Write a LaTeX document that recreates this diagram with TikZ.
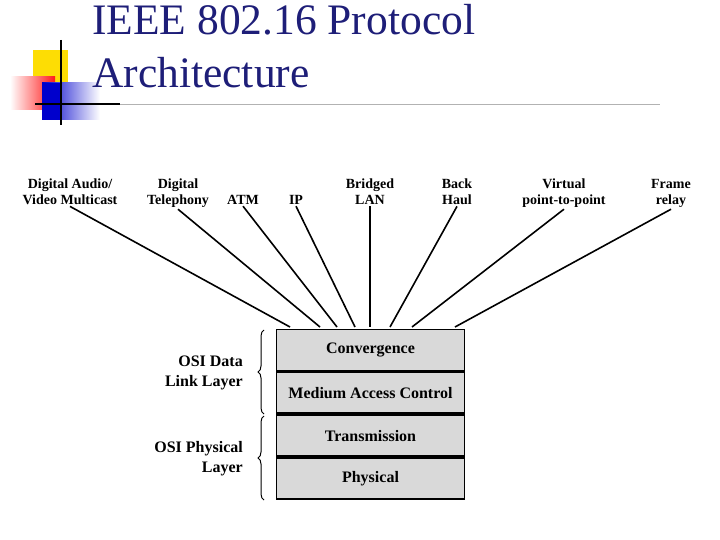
\documentclass[tikz,border=0pt]{standalone}
\usepackage{fontspec}
\setmainfont{Liberation Serif}
\usetikzlibrary{decorations.pathreplacing}
\definecolor{titleblue}{RGB}{30,30,120}
\definecolor{boxgray}{RGB}{217,217,217}
\begin{document}
\begin{tikzpicture}[x=1pt,y=-1pt,
  lbl/.style={font=\fontsize{14}{17}\selectfont\bfseries, align=center, anchor=base, inner sep=1pt},
  side/.style={font=\fontsize{16}{20}\selectfont\bfseries, align=right, anchor=east, inner sep=1pt},
  layer/.style={draw, line width=1.8pt, fill=boxgray, minimum width=188pt, minimum height=41pt, font=\fontsize{16}{18}\selectfont\bfseries, inner sep=0pt},
  ttl/.style={anchor=base west, text=titleblue, font=\fontsize{43.5}{48}\selectfont, inner sep=0pt},
  conn/.style={line width=1.6pt}]
\useasboundingbox (0,0) rectangle (720,540);
% logo
\fill[yellow!80!orange] (33,50) rectangle (68,85);
\shade[left color=white, right color=red!90] (10,77) rectangle (55,110);
\shade[left color=blue!80!black, right color=white] (42,83) rectangle (100,120);
\fill[blue!80!black] (42,83) rectangle (62,120);
\draw[line width=2pt] (61,40) -- (61,125);
\draw[line width=2pt] (35,104) -- (120,104);
\draw[gray!60, line width=0.6pt] (120,104) -- (660,104);
% title
\node[ttl] (t1) at (92,35) {IEEE 802.16 Protocol};
\node[ttl] (t2) at (92,88) {Architecture};
% layers
\node[layer] (conv) at (370.5,350) {Convergence};
\node[layer, anchor=north] (mac) at (conv.south) {Medium Access Control};
\node[layer, anchor=north] (trans) at (mac.south) {Transmission};
\node[layer, anchor=north] (phys) at (trans.south) {Physical};
% labels
\node[lbl] (l1) at (70,205) {Digital Audio/\\Video Multicast};
\node[lbl] (l2) at (178,205) {Digital\\Telephony};
\node[lbl] (l3) at (243,205) {ATM};
\node[lbl] (l4) at (296,205) {IP};
\node[lbl] (l5) at (370,205) {Bridged\\LAN};
\node[lbl] (l6) at (457,205) {Back\\Haul};
\node[lbl] (l7) at (564,205) {Virtual\\point-to-point};
\node[lbl] (l8) at (671,205) {Frame\\relay};
\coordinate (e1) at (290,327);
\coordinate (e2) at (320,327);
\coordinate (e3) at (337,327);
\coordinate (e4) at (355,327);
\coordinate (e5) at (370,327);
\coordinate (e6) at (390,327);
\coordinate (e7) at (412,327);
\coordinate (e8) at (455,327);
\draw[conn] (l1.south) -- (e1);
\draw[conn] (l2.south) -- (e2);
\draw[conn] (l3.south) -- (e3);
\draw[conn] (l4.south) -- (e4);
\draw[conn] (l5.south) -- (e5);
\draw[conn] (l6.south) -- (e6);
\draw[conn] (l7.south) -- (e7);
\draw[conn] (l8.south) -- (e8);
% braces
\coordinate (b1) at (264,330);
\coordinate (b2) at (264,414);
\coordinate (b3) at (264,416);
\coordinate (b4) at (264,500);
\draw[line width=1pt, decorate, decoration={brace, amplitude=6pt}] (b2) -- (b1);
\draw[line width=1pt, decorate, decoration={brace, amplitude=6pt}] (b4) -- (b3);
\node[side] (dl) at (244,373) {OSI Data\\Link Layer};
\node[side] (pl) at (244,459) {OSI Physical\\Layer};
\end{tikzpicture}
\end{document}
